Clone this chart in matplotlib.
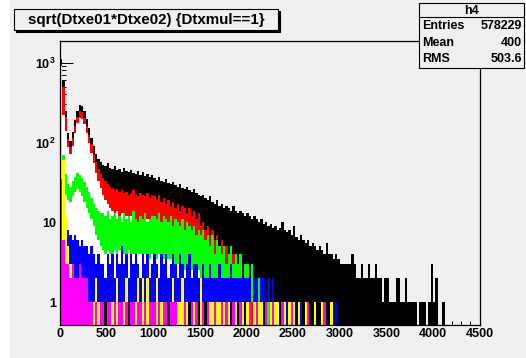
import numpy as np
import matplotlib
matplotlib.use('Agg')
import matplotlib.pyplot as plt
from matplotlib.patches import Rectangle
from matplotlib.ticker import FixedLocator, FixedFormatter, NullFormatter

plt.rcParams['font.family'] = ['Liberation Sans', 'DejaVu Sans']
plt.rcParams['font.weight'] = 'bold'
plt.rcParams['mathtext.fontset'] = 'custom'
plt.rcParams['mathtext.rm'] = 'Liberation Sans:bold'
plt.rcParams['mathtext.bf'] = 'Liberation Sans:bold'
plt.rcParams['mathtext.it'] = 'Liberation Sans:bold'

# ---------------- data ----------------
title_text = "sqrt(Dtxe01*Dtxe02) {Dtxmul==1}"
stats_name = "h4"
stats_labels = ["Entries", "Mean", "RMS"]
stats_values = ["578229", "400", "503.6"]

x_ticks = [0, 500, 1000, 1500, 2000, 2500, 3000, 3500, 4000, 4500]
x_tick_labels = ["0", "500", "1000", "1500", "2000", "2500", "3000", "3500", "4000", "4500"]
y_ticks = [1, 10, 100, 1000]
y_tick_labels = ["1", "10", r"$10^{2}$", r"$10^{3}$"]

BIN_W = 25           # column width (x units) of the per-column envelopes
X_MAX = 4500

# black: per-column maximum (histogram reaches down to zero counts)
black_hi = [1100, 600, 250, 130, 105, 135, 190, 250, 295, 285, 245, 195, 150, 115, 90, 72, 62, 56,
            52, 50, 55, 48, 47, 50, 45, 46, 43, 48, 44, 42, 45, 41, 40, 44, 39, 42, 38, 40, 37, 39,
            36, 34, 37, 33, 32, 35, 31, 30, 32, 29, 28, 30, 27, 26, 28, 25, 24, 26, 23, 22,
            21, 22, 20, 19, 21, 18, 17, 19, 16, 17, 15, 16, 15, 14, 16, 14, 13, 14, 13, 12,
            13, 12, 11, 12, 11, 10, 11, 9.5, 10, 9, 9.5, 8.5, 9, 8, 8.5, 10, 8, 7.5, 8, 7,
            9, 6.5, 6, 7, 6, 5.5, 6, 5, 5.5, 5, 4.5, 5, 4.5, 4, 5.5, 4, 4, 3.5, 4, 3.5,
            3, 3, 3, 3, 3, 4, 3, 2, 2, 3, 2, 2, 3, 2, 2, 3, 2, 2, 1, 2,
            2, 1, 1, 1, 2, 2, 1, 1, 2, 1, 1, 1, 1, 0, 1, 1, 1, 0, 1, 3,
            1, 2, 0, 0, 1]

red_hi = [950, 500, 210, 110, 88, 112, 160, 210, 248, 240, 205, 162, 125, 95, 72, 56, 46, 40,
          36, 33, 30, 28, 27, 25, 26, 24, 25, 23, 24, 22, 23, 25, 22, 21, 23, 22, 21, 23, 20, 22,
          21, 19, 22, 18, 20, 17, 19, 16, 18, 15, 17, 14, 16, 15, 13, 15, 12, 14, 11, 13,
          9, 10, 8, 9, 7, 8, 6, 7, 5, 6, 5, 5, 4, 5, 4, 4, 3, 3, 2, 3,
          2, 0, 1, 0]
red_lo = [420, 220, 140, 88, 72, 90, 130, 175, 205, 198, 168, 130, 98, 74, 55, 41, 33, 27,
          22, 19, 17, 15, 14, 13, 14, 12, 13, 12, 12, 11, 12, 12, 11, 10, 11, 10, 10, 11, 10, 10,
          10, 9, 10, 8, 9, 8, 8, 7, 8, 7, 7, 6, 7, 6, 5, 6, 5, 5, 4, 5,
          3, 4, 3, 3, 2, 3, 2, 2, 1, 2, 1, 1, 1, 1, 1, 1, 1, 1, 1, 1,
          0, 0, 0, 0]

green_hi = [160, 70, 40, 30, 28, 33, 37, 41, 39, 36, 32, 28, 24, 20, 17, 15, 14, 13,
            13, 12, 14, 11, 12, 13, 11, 12, 10, 13, 11, 12, 10, 14, 11, 10, 12, 11, 13, 10, 11, 12,
            12, 11, 13, 10, 12, 11, 10, 12, 9, 11, 10, 9, 11, 8, 10, 9, 8, 9, 7, 8,
            7, 8, 6, 7, 5, 7, 4, 6, 5, 4, 5, 3, 4, 5, 3, 4, 3, 4, 2, 3,
            3, 2, 3, 2, 0, 2, 1, 2, 0, 1, 0, 1, 0]
green_lo = [60, 30, 22, 19, 18, 21, 24, 26, 24, 21, 18, 15, 13, 11, 9, 7, 6, 5,
            4.5, 4, 4.5, 4, 4, 4.5, 4, 4.5, 4, 4, 3.5, 4.5, 4, 4, 3.5, 4, 4, 3.5, 4, 4, 3.5, 4,
            4, 3.5, 4, 3.5, 3.5, 3, 3.5, 3.5, 3, 3, 3, 3, 3, 2.5, 3, 2.5, 2.5, 2.5, 2, 2.5,
            2, 2, 2, 2, 1.5, 2, 1.5, 1.5, 1.5, 1.5, 1.5, 1, 1, 1.5, 1, 1, 1, 1, 1, 1,
            1, 1, 1, 1, 0, 1, 0, 1, 0, 0, 0, 0, 0]

blue_hi = [120, 12, 9, 8, 7, 6, 7, 6, 5, 6, 5, 5, 4, 5, 4, 3, 4, 3, 3, 2,
           4, 3, 4, 2, 4, 3, 5, 3, 4, 2, 4, 3, 4, 3, 2, 4, 3, 4, 2, 3,
           4, 3, 2, 4, 3, 4, 2, 3, 4, 3, 2, 4, 3, 2, 3, 4, 2, 3, 3, 2,
           2, 3, 2, 2, 3, 2, 2, 2, 3, 2, 2, 2, 2, 3, 2, 2, 2, 2, 2, 2,
           2, 2, 1, 2, 2, 1, 2, 2, 1, 2, 1, 2, 1,
           0, 0, 0, 0, 1, 0, 0, 0, 0, 0, 1, 0, 0, 0, 0, 0, 0, 0, 0, 1, 0, 0, 0, 0, 0, 1]
blue_lo_str = ("0000000000000000000" "1" "000000000" "1" "0000000000000000" "1" "00000000" "1"
               "000" "1" "00" "1" "0000000000" "1" "00" "1" "00" "1" "00" "1" "0000" "1" "0" "1")

yellow_hi = ([900, 60, 12, 5, 3]
             + [int(c) for c in "2101210"]
             + [int(c) for c in "1012101001102101200112021201120110012011"]
             + [int(c) for c in "2110111021011101101110110110110101101010110010101"]
             + [int(c) for c in "01001000100100010000"])

magenta_hi = ([35, 6, 3, 3, 2, 3, 2, 2, 3, 2, 2, 2]
              + [int(c) for c in "1101011011010110101101101011101011011100"]
              + [int(c) for c in "0100101001010010010100100100010010001001000100010"]
              + [int(c) for c in "00000100000010000000"])

# ---------------- styling / layout ----------------
W, H, DPI = 526, 358, 100
GRAY = '#f0f0f0'
FLOOR = 0.05
edges = np.arange(0, X_MAX + BIN_W, BIN_W)
NB = len(edges) - 1


def full(vals):
    a = np.zeros(NB)
    v = np.asarray(vals, dtype=float)[:NB]
    a[:len(v)] = v
    return a


def band(ax, hi, lo, color, z):
    hi = full(hi)
    lo = full(lo)
    present = hi > 0
    top = np.where(present, hi, FLOOR)
    bot = np.where(present & (lo > 0), np.minimum(lo, hi), FLOOR)
    bot = np.where(present, bot, FLOOR)
    ax.stairs(top, edges, baseline=bot, fill=True, color=color, lw=0, zorder=z)


fig = plt.figure(figsize=(W / DPI, H / DPI), dpi=DPI, facecolor='white')
fig.add_artist(Rectangle((10 / W, 0), 1 - 10 / W, 1, transform=fig.transFigure,
                         facecolor=GRAY, edgecolor='none', zorder=0))

ax = fig.add_axes([60 / W, 1 - 325 / H, 419.5 / W, 284 / H])
ax.set_facecolor(GRAY)
ax.set_yscale('log')
ax.set_xlim(0, X_MAX)
ax.set_ylim(0.515, 1865)

# draw order as in the reference: black, (white fill), red, green, blue, yellow, magenta
band(ax, black_hi, [0] * NB, 'black', 2)
r_lo = full(red_lo)
w_floor = np.where(np.arange(NB) < 60, 1.0, 2.0)
w_top = np.where(r_lo > w_floor, r_lo, 0)
w_bot = np.where(r_lo > w_floor, w_floor, 0)
band(ax, w_top, w_bot, 'white', 3)
band(ax, red_hi, red_lo, '#ff0000', 4)
band(ax, green_hi, green_lo, '#00ff00', 5)
band(ax, blue_hi, [int(c) for c in blue_lo_str], '#0000ff', 6)
band(ax, yellow_hi, [0] * NB, '#ffff00', 7)
band(ax, magenta_hi, [0] * NB, '#ff00ff', 8)

for s in ax.spines.values():
    s.set_linewidth(0.9)
    s.set_color('black')
    s.set_zorder(10)

ax.xaxis.set_major_locator(FixedLocator(x_ticks))
ax.xaxis.set_major_formatter(FixedFormatter(x_tick_labels))
ax.xaxis.set_minor_locator(FixedLocator(np.arange(0, X_MAX + 1, 100)))
ax.xaxis.set_minor_formatter(NullFormatter())
ax.yaxis.set_major_locator(FixedLocator(y_ticks))
ax.yaxis.set_major_formatter(FixedFormatter(y_tick_labels))
yminor = [m * 10 ** d for d in range(0, 4) for m in range(2, 10)]
ax.yaxis.set_minor_locator(FixedLocator(yminor))
ax.yaxis.set_minor_formatter(NullFormatter())

ax.tick_params(axis='x', which='major', direction='in', length=6.1, width=0.7,
               pad=2.0, labelsize=9, top=False)
ax.tick_params(axis='x', which='minor', direction='in', length=3.1, width=0.7, top=False)
ax.tick_params(axis='y', which='major', direction='in', length=9.0, width=0.7,
               pad=3.0, labelsize=9, right=False)
ax.tick_params(axis='y', which='minor', direction='in', length=4.5, width=0.7, right=False)
for lab in ax.get_xticklabels() + ax.get_yticklabels():
    lab.set_fontweight('bold')


def px(x, y):
    return x / W, 1 - y / H


# title box with shadow
x0, y0, x1, y1 = 14, 9, 278, 30
fig.add_artist(Rectangle(px(x0 + 2, y1 + 2), (x1 - x0) / W, (y1 - y0) / H, transform=fig.transFigure,
                         facecolor='black', edgecolor='black', lw=0.8, zorder=20))
fig.add_artist(Rectangle(px(x0, y1), (x1 - x0) / W, (y1 - y0) / H, transform=fig.transFigure,
                         facecolor=GRAY, edgecolor='black', lw=0.8, zorder=21))
t = fig.text(*px((x0 + x1) / 2, (y0 + y1) / 2 + 0.5), title_text, ha='center', va='center',
             fontsize=10, fontweight='bold', zorder=22)
fig.canvas.draw()
wpx = t.get_window_extent().width
t.set_fontsize(10 * 238 / wpx)

# stats box
sx0, sy0, sx1, sy1 = 419, 3, 524, 68
fig.add_artist(Rectangle(px(sx0, sy1), (sx1 - sx0) / W, (sy1 - sy0) / H, transform=fig.transFigure,
                         facecolor=GRAY, edgecolor='black', lw=0.8, zorder=20))
hy = 17
fig.add_artist(plt.Line2D([sx0 / W, sx1 / W], [1 - hy / H, 1 - hy / H], transform=fig.transFigure,
                          color='black', lw=0.8, zorder=21))
fig.text(*px((sx0 + sx1) / 2, (sy0 + hy) / 2 + 0.5), stats_name, ha='center', va='center',
         fontsize=9, fontweight='bold', zorder=22)
row_y = [26, 42.5, 59]
for lab, val, ry in zip(stats_labels, stats_values, row_y):
    fig.text(*px(sx0 + 3, ry), lab, ha='left', va='center', fontsize=9, fontweight='bold', zorder=22)
    fig.text(*px(sx1 - 2, ry), val, ha='right', va='center', fontsize=9, fontweight='bold', zorder=22)

fig.savefig('out.png', dpi=DPI, facecolor=fig.get_facecolor())
